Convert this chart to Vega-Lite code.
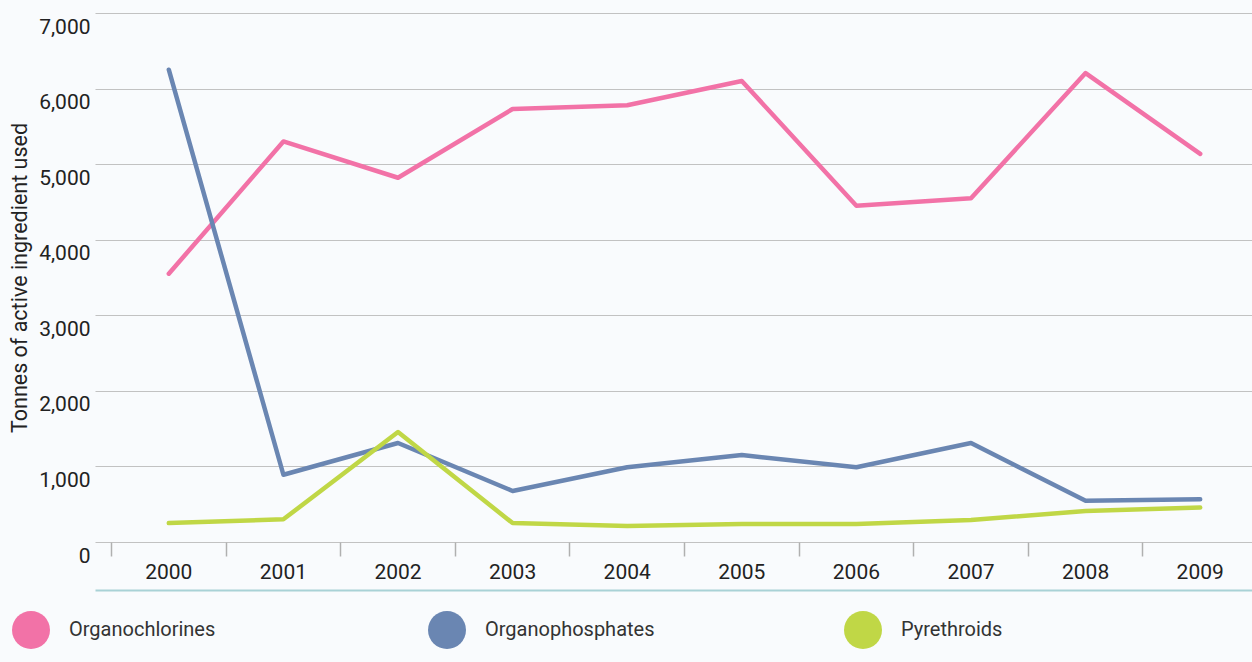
{
  "$schema": "https://vega.github.io/schema/vega-lite/v6.json",
  "width": 1179,
  "height": 529,
  "autosize": {"type": "none"},
  "padding": {"left": 95, "top": 13, "right": -22, "bottom": 120},
  "background": "#f9fbfd",
  "config": {"view": {"stroke": null}, "font": "Roboto"},
  "data": {
    "values": [
      {"year": "2000", "series": "Organochlorines", "value": 3550},
      {"year": "2001", "series": "Organochlorines", "value": 5300},
      {"year": "2002", "series": "Organochlorines", "value": 4820},
      {"year": "2003", "series": "Organochlorines", "value": 5730},
      {"year": "2004", "series": "Organochlorines", "value": 5780},
      {"year": "2005", "series": "Organochlorines", "value": 6100},
      {"year": "2006", "series": "Organochlorines", "value": 4450},
      {"year": "2007", "series": "Organochlorines", "value": 4550},
      {"year": "2008", "series": "Organochlorines", "value": 6205},
      {"year": "2009", "series": "Organochlorines", "value": 5135},
      {"year": "2000", "series": "Organophosphates", "value": 6250},
      {"year": "2001", "series": "Organophosphates", "value": 890},
      {"year": "2002", "series": "Organophosphates", "value": 1310},
      {"year": "2003", "series": "Organophosphates", "value": 675},
      {"year": "2004", "series": "Organophosphates", "value": 990},
      {"year": "2005", "series": "Organophosphates", "value": 1150},
      {"year": "2006", "series": "Organophosphates", "value": 990},
      {"year": "2007", "series": "Organophosphates", "value": 1310},
      {"year": "2008", "series": "Organophosphates", "value": 545},
      {"year": "2009", "series": "Organophosphates", "value": 565},
      {"year": "2000", "series": "Pyrethroids", "value": 250},
      {"year": "2001", "series": "Pyrethroids", "value": 300},
      {"year": "2002", "series": "Pyrethroids", "value": 1455},
      {"year": "2003", "series": "Pyrethroids", "value": 250},
      {"year": "2004", "series": "Pyrethroids", "value": 212},
      {"year": "2005", "series": "Pyrethroids", "value": 238},
      {"year": "2006", "series": "Pyrethroids", "value": 238},
      {"year": "2007", "series": "Pyrethroids", "value": 292},
      {"year": "2008", "series": "Pyrethroids", "value": 410},
      {"year": "2009", "series": "Pyrethroids", "value": 455}
    ]
  },
  "layer": [
    {
      "mark": {"type": "line", "strokeWidth": 4.5, "strokeCap": "round", "strokeJoin": "round"},
      "encoding": {
        "x": {
          "field": "year",
          "type": "ordinal",
          "scale": {"type": "band", "paddingInner": 0, "paddingOuter": 0.144, "align": 0.5},
          "axis": {
            "title": null,
            "orient": "bottom",
            "labelAngle": 0,
            "labelFontSize": 21,
            "labelColor": "#222222",
            "tickSize": 14,
            "tickColor": "#b0b0b0",
            "tickWidth": 1.5,
            "bandPosition": 0,
            "labelPadding": 5,
            "domain": false,
            "grid": false
          }
        },
        "y": {
          "field": "value",
          "type": "quantitative",
          "scale": {"domain": [0, 7000], "nice": false},
          "axis": {
            "title": "Tonnes of active ingredient used",
            "titleFontSize": 21.5,
            "titleFontWeight": "normal",
            "titleColor": "#222222",
            "titlePadding": 7,
            "values": [0, 1000, 2000, 3000, 4000, 5000, 6000, 7000],
            "format": ",d",
            "labelFontSize": 21,
            "labelColor": "#222222",
            "labelPadding": 5,
            "labelBaseline": "middle",
            "labelOffset": 14,
            "labelFlush": false,
            "ticks": false,
            "domain": false,
            "grid": true,
            "gridColor": "#c2c2c2",
            "gridWidth": 1.2
          }
        },
        "color": {
          "field": "series",
          "type": "nominal",
          "scale": {
            "domain": ["Organochlorines", "Organophosphates", "Pyrethroids"],
            "range": ["#f272a7", "#6a86b2", "#c0d746"]
          },
          "legend": {
            "title": null,
            "orient": "none",
            "legendX": -83,
            "legendY": 598,
            "direction": "horizontal",
            "columns": 3,
            "gridAlign": "all",
            "columnPadding": 189,
            "padding": 0,
            "symbolType": "circle",
            "symbolSize": 1444,
            "symbolStrokeWidth": 0,
            "labelFontSize": 20,
            "labelColor": "#333333",
            "labelOffset": 19,
            "labelLimit": 400,
            "labelBaseline": "middle",
            "encode": {
              "symbols": {"update": {"fill": {"scale": "color", "field": "value"}, "strokeWidth": {"value": 0}, "opacity": {"value": 1}}}
            }
          }
        }
      }
    },
    {
      "mark": {"type": "point", "opacity": 0},
      "encoding": {
        "x": {
          "field": "year",
          "type": "ordinal",
          "axis": {
            "orient": "bottom",
            "offset": 48,
            "title": null,
            "domain": true,
            "domainColor": "#a9d2d6",
            "domainWidth": 2,
            "ticks": false,
            "labels": false,
            "grid": false
          }
        },
        "y": {"field": "value", "type": "quantitative"}
      }
    }
  ],
  "resolve": {"axis": {"x": "independent"}}
}
